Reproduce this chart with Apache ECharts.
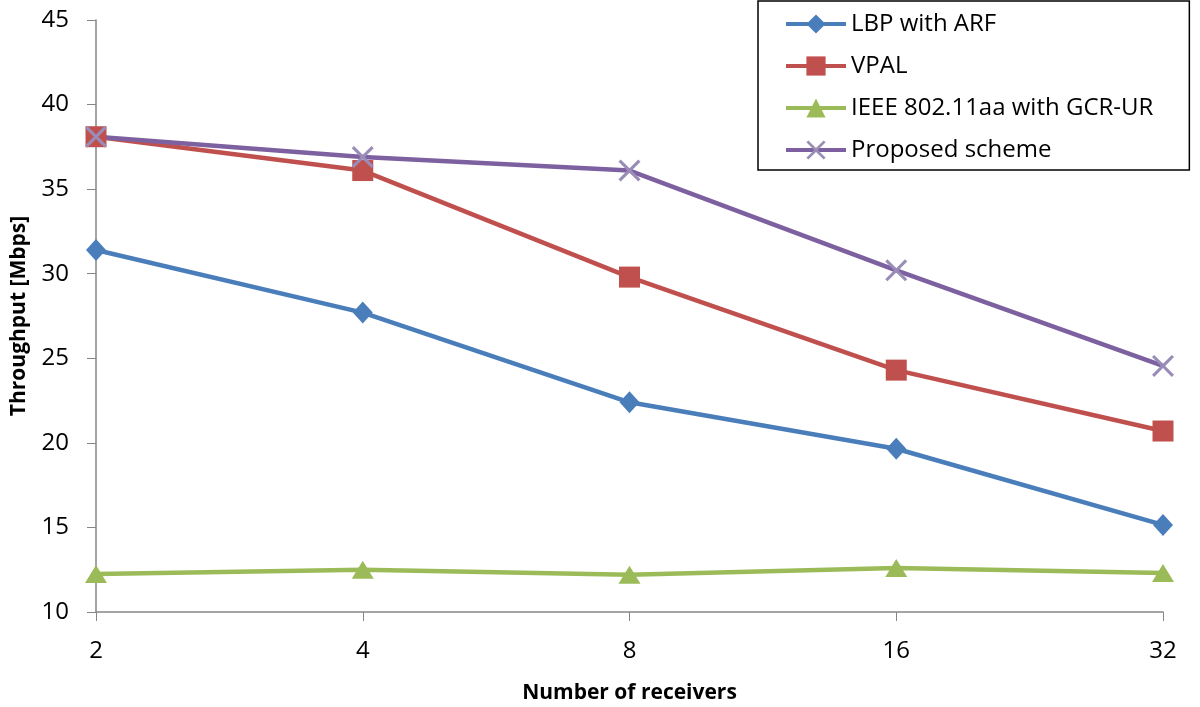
<!DOCTYPE html>
<html>
<head>
<meta charset="utf-8">
<script src="https://cdn.jsdelivr.net/npm/echarts@6/dist/echarts.min.js"></script>
<style>
html, body { margin: 0; padding: 0; background: #fff; }
#container { width: 1200px; height: 707px; }
</style>
</head>
<body>
<div id="container"></div>
<script>
var receivers = ['2', '4', '8', '16', '32'];
var lbpArf = [31.4, 27.7, 22.4, 19.65, 15.15];
var vpal = [38.1, 36.1, 29.8, 24.3, 20.7];
var ieeeGcr = [12.25, 12.5, 12.2, 12.6, 12.3];
var proposed = [38.1, 36.9, 36.1, 30.2, 24.55];

// X 形标记
var crossPath = 'path://M0,1L1,0L5,4L9,0L10,1L6,5L10,9L9,10L5,6L1,10L0,9L4,5Z';
var fontName = 'Open Sans, Liberation Sans, sans-serif';

var myChart = echarts.init(document.getElementById('container'));
myChart.setOption({
    animation: false,
    textStyle: { fontFamily: fontName },
    grid: { left: 96, right: 37, top: 20, bottom: 95, outerBoundsMode: 'none' },
    legend: {
        orient: 'vertical',
        left: 758,
        top: 1,
        padding: [11, 36, 8, 26],
        itemGap: 18,
        itemWidth: 60,
        itemHeight: 24,
        borderColor: '#000',
        borderWidth: 1.5,
        lineStyle: { width: 4 },
        textStyle: { fontSize: 24, color: '#000', fontFamily: fontName },
        data: ['LBP with ARF', 'VPAL', 'IEEE 802.11aa with GCR-UR', 'Proposed scheme']
    },
    xAxis: {
        type: 'category',
        boundaryGap: false,
        data: receivers,
        name: 'Number of receivers',
        nameLocation: 'middle',
        nameGap: 71,
        nameTextStyle: { fontSize: 21, fontWeight: 'bold', color: '#000' },
        axisLine: { lineStyle: { color: '#868686', width: 1.5 } },
        axisTick: { alignWithLabel: true, length: 9, lineStyle: { color: '#868686' } },
        axisLabel: { fontSize: 24, color: '#000', margin: 27 },
        splitLine: { show: false }
    },
    yAxis: {
        type: 'value',
        min: 10,
        max: 45,
        interval: 5,
        name: 'Throughput [Mbps]',
        nameLocation: 'middle',
        nameGap: 66,
        nameTextStyle: { fontSize: 21, fontWeight: 'bold', color: '#000' },
        axisLine: { show: true, lineStyle: { color: '#868686', width: 1.5 } },
        axisTick: { show: true, length: 9, lineStyle: { color: '#868686' } },
        axisLabel: { fontSize: 24, color: '#000', margin: 27 },
        splitLine: { show: false }
    },
    series: [{
        name: 'LBP with ARF',
        type: 'line',
        symbol: 'diamond',
        symbolSize: [20, 22],
        data: lbpArf,
        itemStyle: { color: '#4A7EBB' },
        lineStyle: { color: '#4A7EBB', width: 4.5 }
    }, {
        name: 'VPAL',
        type: 'line',
        symbol: 'rect',
        symbolSize: 21,
        data: vpal,
        itemStyle: { color: '#C0504D' },
        lineStyle: { color: '#C0504D', width: 4.5 }
    }, {
        name: 'IEEE 802.11aa with GCR-UR',
        type: 'line',
        symbol: 'triangle',
        symbolSize: [22, 18],
        data: ieeeGcr,
        itemStyle: { color: '#9BBB59' },
        lineStyle: { color: '#9BBB59', width: 4.5 }
    }, {
        name: 'Proposed scheme',
        type: 'line',
        symbol: crossPath,
        symbolSize: 22,
        data: proposed,
        itemStyle: { color: '#9A8CB8' },
        lineStyle: { color: '#7D60A0', width: 4.5 }
    }]
});
</script>
</body>
</html>
